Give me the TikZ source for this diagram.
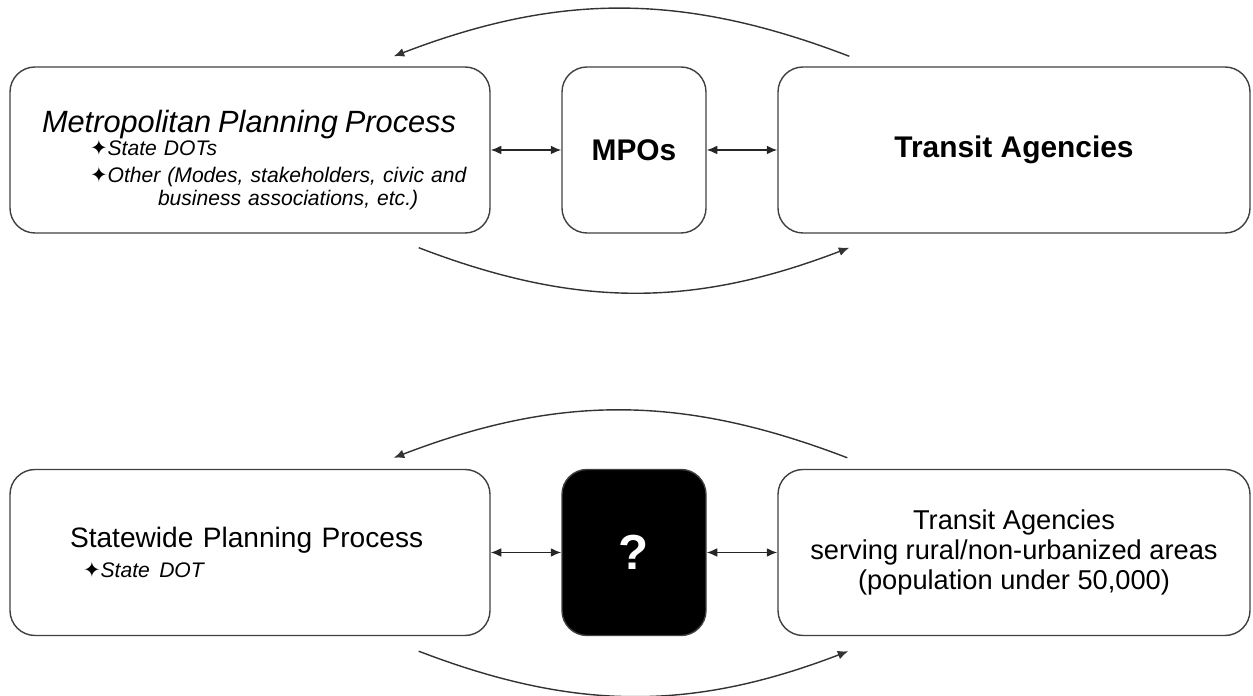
\documentclass[tikz,border=0pt]{standalone}
\usepackage{fontspec}
\setmainfont{Liberation Sans}
\newfontfamily\symfont{DejaVu Sans}
\newcommand{\starbul}{{\symfont\upshape ✦}}
\usetikzlibrary{arrows.meta}

\begin{document}
\begin{tikzpicture}[>={Latex[length=6pt,width=5pt]},
  box/.style={draw=black!75, line width=0.8pt, rounded corners=0.5cm,
    minimum width=#1, minimum height=3.32cm, inner sep=0pt},
  twoway/.style={<->, line width=0.8pt, draw=black!85},
  feedback/.style={->, line width=0.8pt, draw=black!80}]
  \useasboundingbox (0,0) rectangle (25.06,13.92);
  \node[box=9.6cm, text width=8.9cm, align=left,
    font=\fontsize{12}{13.6}\selectfont\itshape] (metro) at (5,10.92)
    {\rule{0pt}{24pt}\hspace*{0.29cm}{\fontsize{17.5}{17.5}\selectfont Metropolitan Planning Process}\\[-0.3pt]
     \hspace*{1.25cm}\starbul State DOTs\\[1.4pt]
     \hspace*{1.25cm}\starbul Other (Modes, stakeholders, civic and\\[-0.4pt]
     \hspace*{2.61cm}business associations, etc.)};
  \node[box=2.88cm, font=\fontsize{17}{17}\selectfont\bfseries]
    (mpo) at (12.68,10.92) {MPOs};
  \node[box=9.44cm, font=\fontsize{17}{17}\selectfont\bfseries]
    (transit) at (20.28,10.92) {Transit Agencies};
  \node[box=9.6cm, text width=7.2cm, align=left,
    font=\fontsize{16}{17}\selectfont] (statewide) at (5,2.87)
    {Statewide Planning Process\\
     \hspace*{0.26cm}{\fontsize{12}{14}\selectfont\itshape\starbul State DOT}};
  \node[box=2.88cm, fill=black, text=white,
    font=\fontsize{28}{28}\selectfont\bfseries] (unknown) at (12.68,2.87) {?};
  \node[box=9.44cm, align=center, font=\fontsize{15.5}{17}\selectfont]
    (rural) at (20.28,2.87)
    {Transit Agencies\\serving rural/non-urbanized areas\\(population under 50,000)};
  \draw[twoway] (metro) -- (mpo);
  \draw[twoway] (mpo) -- (transit);
  \draw[twoway] (statewide) -- (unknown);
  \draw[twoway] (unknown) -- (rural);
  \draw[feedback] ([shift={(1.44,0.2)}]transit.north west)
    to[bend right=21] ([shift={(-1.94,0.2)}]metro.north east);
  \draw[feedback] ([shift={(-1.44,-0.28)}]metro.south east)
    to[bend right=21] ([shift={(1.44,-0.28)}]transit.south west);
  \draw[feedback] ([shift={(1.4,0.22)}]rural.north west)
    to[bend right=21] ([shift={(-1.94,0.22)}]statewide.north east);
  \draw[feedback] ([shift={(-1.44,-0.3)}]statewide.south east)
    to[bend right=21] ([shift={(1.42,-0.3)}]rural.south west);
\end{tikzpicture}
\end{document}
